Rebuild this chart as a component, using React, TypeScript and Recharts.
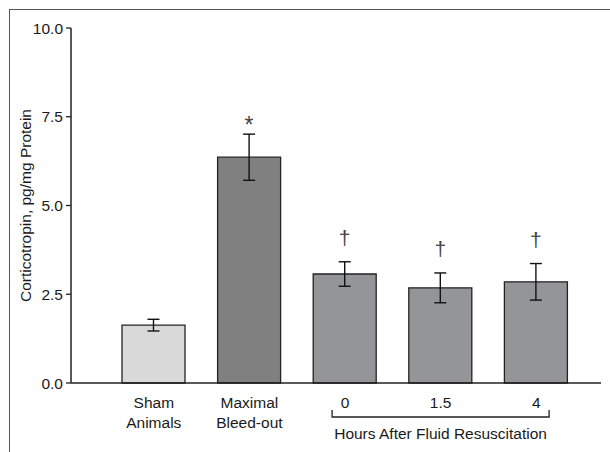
import { BarChart, Bar, XAxis, YAxis, ErrorBar, Cell, LabelList } from "recharts";

const groups = ["Sham Animals", "Maximal Bleed-out", "0", "1.5", "4"];
const tickLines = [["Sham", "Animals"], ["Maximal", "Bleed-out"], ["0"], ["1.5"], ["4"]];
const means = [1.63, 6.36, 3.07, 2.68, 2.85];
const sems = [0.165, 0.65, 0.345, 0.42, 0.515];
const marks = ["", "*", "†", "†", "†"];
const yTicks = [0, 2.5, 5, 7.5, 10];
const groupTitle = "Hours After Fluid Resuscitation";
const yTitle = "Corticotropin, pg/mg Protein";

const fills = ["#d9d9d9", "#808080", "#939598", "#939598", "#939598"];
const font = { fontFamily: '"Liberation Sans", Arial, sans-serif', fontSize: 15.5 };
const ink = "#1a1a1a";

const data = groups.map((g, i) => ({ name: g, value: means[i], err: sems[i], mark: marks[i] }));

function GroupTick(props: any) {
  const { x, y, index } = props;
  const lines = tickLines[index] || [];
  return (
    <g>
      <text x={x} y={y + 23} textAnchor="middle" fill={ink} style={font}>
        {lines.map((l, k) => (
          <tspan key={k} x={x} dy={k === 0 ? 0 : 20}>
            {l}
          </tspan>
        ))}
      </text>
      {index === 3 && (
        <g>
          {/* bracket under the resuscitation groups */}
          <path
            d={`M${x - 108.5},${y + 25} V${y + 32} H${x + 108.5} V${y + 25}`}
            stroke="#222"
            strokeWidth={1.3}
            fill="none"
          />
          <text x={x} y={y + 54} textAnchor="middle" fill={ink} style={font}>
            {groupTitle}
          </text>
        </g>
      )}
    </g>
  );
}

function MarkLabel(props: any) {
  const { x, y, width, height, value, index } = props;
  if (!value) return null;
  const perUnit = height / means[index];
  const top = y - sems[index] * perUnit;
  const star = value === "*";
  return (
    <text
      x={x + width / 2}
      y={star ? top - 1 : top - 17}
      textAnchor="middle"
      fill="#444"
      style={{ ...font, fontSize: star ? 23 : 21 }}
    >
      {value}
    </text>
  );
}

function YTitle(props: any) {
  const vb = props.viewBox || {};
  const cy = vb.y + vb.height / 2;
  const cx = 25;
  return (
    <text
      x={cx}
      y={cy}
      transform={`rotate(-90, ${cx}, ${cy})`}
      textAnchor="middle"
      dominantBaseline="central"
      fill={ink}
      style={font}
    >
      {yTitle}
    </text>
  );
}

export default function App() {
  return (
    <div style={{ position: "absolute", left: 0, top: 0, width: 610, height: 452, background: "#fff" }}>
      <div
        style={{
          position: "absolute",
          left: 9,
          top: 9,
          width: 601,
          height: 443,
          borderTop: "1.5px solid #555",
          borderLeft: "1.5px solid #555",
          boxSizing: "border-box",
        }}
      />
      <BarChart
        width={610}
        height={452}
        data={data}
        margin={{ top: 28, right: 9, bottom: 0, left: 11 }}
        style={{ position: "absolute", left: 0, top: 0 }}
      >
        <XAxis
          dataKey="name"
          height={69}
          tickLine={false}
          tickSize={0}
          axisLine={{ stroke: "#222", strokeWidth: 1.5 }}
          padding={{ left: 35, right: 17 }}
          tick={<GroupTick />}
          interval={0}
        />
        <YAxis
          width={60}
          domain={[0, 10]}
          ticks={yTicks}
          tickFormatter={(v: number) => v.toFixed(1)}
          tickSize={5}
          tickMargin={3}
          tick={{ fill: ink, ...font }}
          tickLine={{ stroke: "#222", strokeWidth: 1.3 }}
          axisLine={{ stroke: "#222", strokeWidth: 1.5 }}
          label={<YTitle />}
        />
        <Bar dataKey="value" barSize={63} stroke="#222" strokeWidth={1.3} isAnimationActive={false}>
          {data.map((d, i) => (
            <Cell key={d.name} fill={fills[i]} />
          ))}
          <ErrorBar dataKey="err" width={6} stroke="#111" strokeWidth={1.4} />
          <LabelList dataKey="mark" content={<MarkLabel />} />
        </Bar>
      </BarChart>
    </div>
  );
}
